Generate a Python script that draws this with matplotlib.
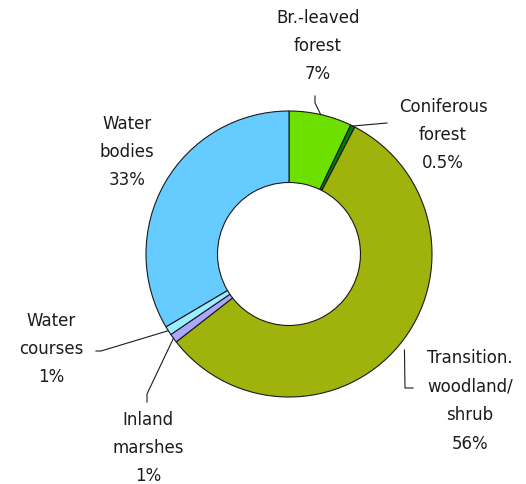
import numpy as np
import matplotlib
matplotlib.use("Agg")
import matplotlib.pyplot as plt

# land cover shares (percent, as labelled)
labels = ["Br.-leaved\nforest\n7%", "Coniferous\nforest\n0.5%",
          "Transition.\nwoodland/\nshrub\n56%", "Inland\nmarshes\n1%",
          "Water\ncourses\n1%", "Water\nbodies\n33%"]
shares = [7, 0.5, 56, 1, 1, 33]
colors = ["#6ee000", "#007a10", "#a0b20c", "#a8a8ff", "#9aeeff", "#66ccff"]

W, H = 526, 484
fig = plt.figure(figsize=(W / 100, H / 100), dpi=100)
ax = fig.add_axes([0, 0, 1, 1])

cx, cy, R = 289, H - 254, 143
wedges, _ = ax.pie(shares, colors=colors, startangle=90, counterclock=False,
                   center=(cx, cy), radius=R, frame=True,
                   wedgeprops=dict(width=R * 0.5, edgecolor="#1a1a1a", linewidth=0.8))
ax.set_xlim(0, W)
ax.set_ylim(0, H)
ax.set_aspect("equal")
ax.axis("off")

# label centres (x, y from top) and leader elbows
label_pos = [(318, 46), (443, 135), (470, 401), (148, 448), (51, 349), (127, 152)]
elbows = [[(315, 103), (315, 96)],
          [(387, 123)],
          [(405, 388), (413, 388)],
          [(147, 394), (147, 402)],
          [(101, 351), (96, 351)],
          None]
anchor_r = [1.0, 1.0, 1.05, 1.0, 1.0, None]

for w, lab, (lx, ly), elb, ar in zip(wedges, labels, label_pos, elbows, anchor_r):
    ax.text(lx, H - ly, lab, ha="center", va="center", fontsize=12,
            color="#1c1c1c", linespacing=1.74, family="DejaVu Sans")
    if elb is None:
        continue
    mid = np.deg2rad((w.theta1 + w.theta2) / 2)
    px = [cx + R * ar * np.cos(mid)] + [p[0] for p in elb]
    py = [cy + R * ar * np.sin(mid)] + [H - p[1] for p in elb]
    ax.plot(px, py, color="#1c1c1c", linewidth=0.8)

fig.savefig("out.png", dpi=100)
